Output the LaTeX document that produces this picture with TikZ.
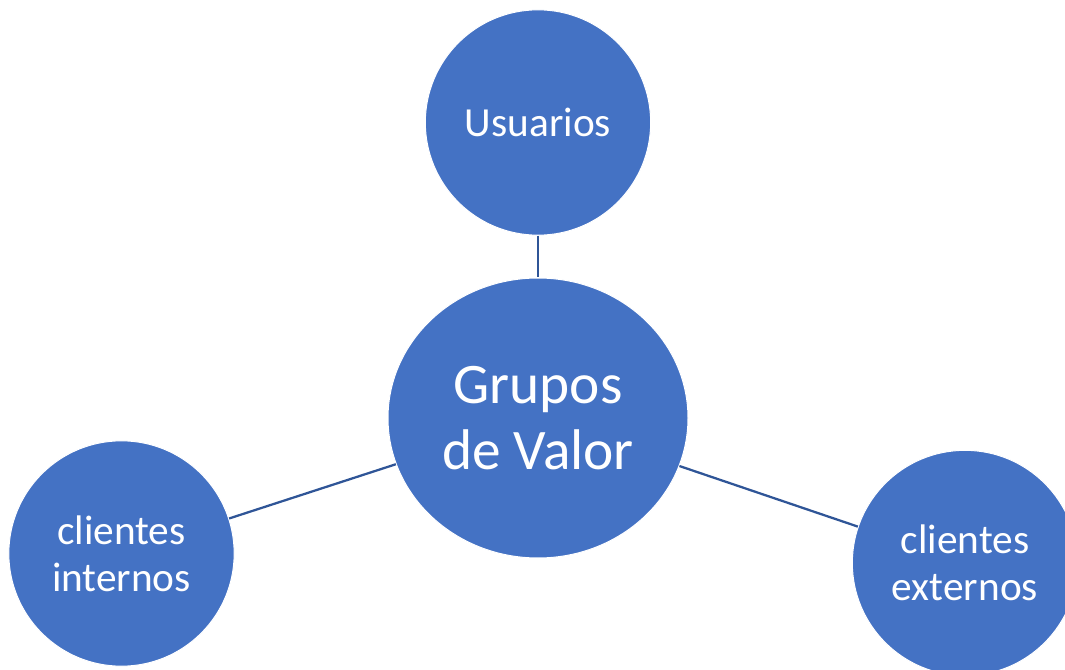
\documentclass[tikz,border=0pt]{standalone}
\usepackage{fontspec}
\setmainfont{Carlito}
\usetikzlibrary{shapes.geometric}
\definecolor{bubble}{HTML}{4472C4}
\definecolor{link}{HTML}{2F5597}
\begin{document}
\begin{tikzpicture}[x=0.75pt,y=-0.75pt,
  hub/.style={ellipse,fill=bubble,draw=white,line width=0.75pt,inner sep=0pt,
    minimum width=225pt,minimum height=210pt,text=white,align=center,
    font=\fontsize{43}{49}\selectfont},
  leaf/.style={circle,fill=bubble,draw=white,line width=0.75pt,inner sep=0pt,
    minimum size=169pt,text=white,align=center,
    font=\fontsize{31}{35}\selectfont},
  conn/.style={draw=link,line width=1.7pt}]
\useasboundingbox (0,0) rectangle (1065,670);
\node[hub] (g) at (538,418) {Grupos\\de Valor};
\node[leaf] (u) at (538,122.5) {Usuarios};
\node[leaf] (ci) at (121.5,553.5) {clientes\\internos};
\node[leaf] (ce) at (965,563) {clientes\\externos};
\draw[conn] (u) -- (g);
\draw[conn] (ci) -- (g);
\draw[conn] (ce) -- (g);
\end{tikzpicture}
\end{document}
